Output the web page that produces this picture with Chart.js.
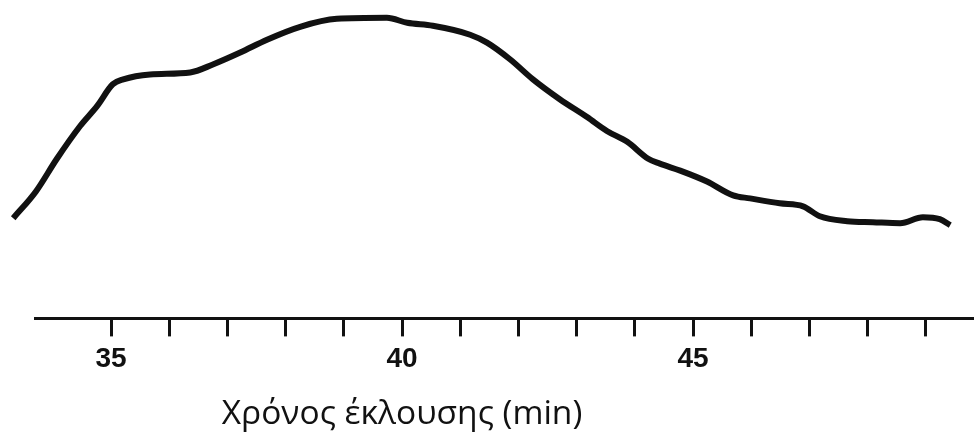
<!DOCTYPE html>
<html>
<head>
<meta charset="utf-8">
<title>Elution</title>
<script src="https://cdn.jsdelivr.net/npm/chart.js@4/dist/chart.umd.min.js"></script>
<style>
  html, body { margin: 0; padding: 0; background: #fff; }
  #wrap { position: relative; width: 974px; height: 433px; }
</style>
</head>
<body>
<div id="wrap"><canvas id="elution"></canvas></div>
<script>
// elution time (min)
const elutionTime = [
  33.32, 33.71, 34.07, 34.47, 34.76, 35.03, 35.21, 35.67, 36.36, 36.75,
  37.22, 37.68, 38.25, 38.88, 39.74, 40.09, 40.53, 41.17, 41.46, 41.86,
  42.25, 42.71, 43.18, 43.52, 43.87, 44.23, 44.43, 44.78, 45.24, 45.69,
  45.98, 46.49, 46.89, 47.18, 47.65, 48.09, 48.56, 48.95, 49.24, 49.42
];
// detector signal, arbitrary units
const signal = [
  101, 128, 161, 194, 214, 236, 241, 246, 248, 256,
  268, 281, 294, 302, 303, 298, 295, 286, 278, 261,
  241, 221, 203, 189, 178, 161, 156, 149, 138, 124,
  121, 116, 113, 103, 98, 97, 96, 102, 100, 94
];
const tickValues = [35, 36, 37, 38, 39, 40, 41, 42, 43, 44, 45, 46, 47, 48, 49];
const labelledTicks = [35, 40, 45];
const xAxisLabel = "Χρόνος έκλουσης (min)";

const ctx = document.getElementById("elution");

// axis label sits left of centre in the original, so draw it here
const axisLabelPlugin = {
  id: "axisLabel",
  afterDraw(chart) {
    const c = chart.ctx;
    c.save();
    c.font = '33.5px "Open Sans"';
    c.fillStyle = "#111";
    c.textAlign = "center";
    c.textBaseline = "alphabetic";
    c.fillText(xAxisLabel, 402, 424);
    c.restore();
  },
};

new Chart(ctx, {
  type: "line",
  data: {
    datasets: [
      {
        data: elutionTime.map((t, i) => ({ x: t, y: signal[i] })),
        borderColor: "#111",
        borderWidth: 6,
        pointRadius: 0,
        cubicInterpolationMode: "monotone",
        fill: false,
        clip: false,
      },
    ],
  },
  options: {
    responsive: true,
    maintainAspectRatio: false,
    animation: false,
    layout: { padding: { left: 35, right: 0, top: 0, bottom: 51 } },
    plugins: { legend: { display: false }, tooltip: { enabled: false } },
    scales: {
      x: {
        type: "linear",
        min: 33.694,
        max: 49.828,
        afterBuildTicks: (scale) => {
          scale.ticks = tickValues.map((v) => ({ value: v }));
        },
        grid: {
          drawOnChartArea: false,
          drawTicks: true,
          tickLength: 18,
          tickWidth: 3,
          tickColor: "#111",
        },
        border: { display: true, width: 3, color: "#111" },
        ticks: {
          autoSkip: false,
          maxRotation: 0,
          padding: 6,
          color: "#111",
          font: { family: "Liberation Sans", size: 28, weight: "bold" },
          callback: (v) => (labelledTicks.includes(v) ? String(v) : ""),
        },
      },
      y: {
        display: false,
        min: 0,
        max: 321,
      },
    },
  },
  plugins: [axisLabelPlugin],
});
</script>
</body>
</html>
